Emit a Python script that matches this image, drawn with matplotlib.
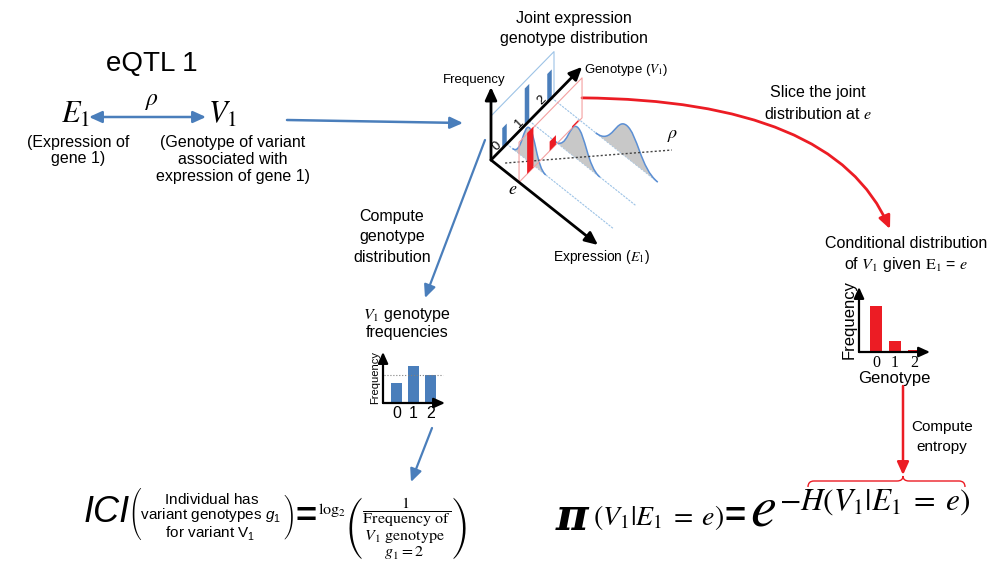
import numpy as np
import matplotlib.pyplot as plt
from matplotlib.path import Path
from matplotlib.patches import PathPatch, FancyArrowPatch, Polygon

plt.rcParams['font.family'] = ['Liberation Sans', 'DejaVu Sans']
plt.rcParams['mathtext.fontset'] = 'stix'
plt.rcParams['mathtext.rm'] = 'Liberation Sans'
plt.rcParams['mathtext.it'] = 'Liberation Sans:italic'
plt.rcParams['mathtext.bf'] = 'Liberation Sans:bold'

# data
genotypes = ['0', '1', '2']
genotype_freq = [0.55, 1.0, 0.77]        # marginal V1 genotype frequencies
cond_freq = [1.0, 0.23, 0.045]           # V1 given E1 = e
joint_peak = [1.0, 0.94, 0.94]           # peak of expression density per genotype
joint_center = [2.1, 4.5, 7.0]           # expression value at the peak
joint_spread = [1.55, 2.1, 2.9]          # half width of each density
e_slice = 2.62                           # where the slice is taken

blue = '#4a7ebb'
red = '#ec1c24'
light_blue = '#9dc3e6'
pink = '#f4a0a0'
grey_fill = '#c8c8c8'
bump_edge = '#5b8fd4'

W, H = 995, 572
fig = plt.figure(figsize=(W / 100, H / 100), dpi=100)
ax = fig.add_axes([0, 0, 1, 1])
ax.set_xlim(0, W)
ax.set_ylim(H, 0)
ax.axis('off')


def arrow(p0, p1, color, style='-|>', lw=1.6, ms=14, z=2):
    ax.add_patch(FancyArrowPatch(p0, p1, arrowstyle=style + ',head_length=0.55,head_width=0.25',
                                 color=color, lw=lw, mutation_scale=ms,
                                 shrinkA=0, shrinkB=0, zorder=z))


def txt(x, y, s, size=11.5, **kw):
    kw.setdefault('ha', 'center')
    kw.setdefault('va', 'center')
    ax.text(x, y, s, fontsize=size, **kw)


# ---- left: eQTL 1 ----
txt(152, 64, 'eQTL 1', 20)
txt(76, 115, r'$E_1$', 22)
txt(223, 115, r'$V_1$', 22)
txt(152, 101, r'$\rho$', 17)
arrow((89, 117), (206, 117), blue, style='<|-|>', lw=1.8)
txt(78, 142, '(Expression of')
txt(78, 159, 'gene 1)')
txt(233, 142, '(Genotype of variant')
txt(233, 159, 'associated with')
txt(233, 176, 'expression of gene 1)')
arrow((287, 120), (463, 123), blue, lw=1.8)

# ---- joint distribution schematic ----
O = np.array([491.0, 160.0])
G = np.array([22.5, -23.0])
X = np.array([10.7, 8.5])


def proj(g, x, f=0.0):
    g, x, f = np.broadcast_arrays(np.asarray(g, float), np.asarray(x, float), np.asarray(f, float))
    return np.stack([O[0] + g * G[0] + x * X[0], O[1] + g * G[1] + x * X[1] - f], axis=-1)


gpos = np.array([0.6, 1.6, 2.6])
bump_g = gpos + 0.1

txt(574, 18, 'Joint expression')
txt(574, 38, 'genotype distribution')

# back plane (genotype x frequency)
plane = proj([0, 2.8, 2.8], 0, [44, 44, 0])
ax.plot(plane[:, 0], plane[:, 1], color=light_blue, lw=0.8, zorder=2)
for g, v, lab in zip(gpos, genotype_freq, genotypes):
    h = v * 37
    ax.add_patch(Polygon(proj([g - 0.1, g + 0.1, g + 0.1, g - 0.1], 0, [0, 0, h, h]),
                         closed=True, facecolor=blue, edgecolor='none', zorder=3))
    p = proj(g - 0.35, 0, 8)
    txt(p[0], p[1], lab, 9.5, rotation=45)

# lines along the expression direction
for g in bump_g:
    line = proj(g, [0, 10])
    ax.plot(line[:, 0], line[:, 1], color=light_blue, lw=0.8, ls=(0, (2, 1)), zorder=2)

# expression densities, back to front
codes = [Path.MOVETO] + [Path.CURVE4] * 6
for k in [2, 1, 0]:
    c, w, h = joint_center[k], joint_spread[k], joint_peak[k] * 34
    xs = [c - w, c - 0.45 * w, c - 0.35 * w, c, c + 0.35 * w, c + 0.45 * w, c + w]
    fs = [0, 0, h, h, h, 0, 0]
    pts = proj(bump_g[k], xs, fs)
    ax.add_patch(PathPatch(Path(np.vstack([pts, pts[:1]]), codes + [Path.CLOSEPOLY]),
                           facecolor=grey_fill, edgecolor='none', zorder=4))
    ax.add_patch(PathPatch(Path(pts, codes), facecolor='none', edgecolor=bump_edge,
                           lw=1.1, zorder=4))

# regression line rho
rho = proj([0.2, 3.76], [0.9, 9.0])
ax.plot(rho[:, 0], rho[:, 1], color='#444444', lw=1, ls=(0, (1.5, 1.5)), zorder=5)
txt(673, 136, r'$\rho$', 13)

# slice at e
sl = proj([0, 2.8, 2.8, 0, 0], e_slice, [0, 0, 40, 40, 0])
ax.plot(sl[:, 0], sl[:, 1], color=pink, lw=0.8, zorder=5)
for g, v in zip(gpos - 0.1, cond_freq):
    h = v * 41
    ax.add_patch(Polygon(proj([g - 0.14, g + 0.14, g + 0.14, g - 0.14], e_slice, [0, 0, h, h]),
                         closed=True, facecolor=red, edgecolor='none', zorder=6))

# axes
arrow(tuple(O), tuple(proj(0, 0, 73)), 'black', lw=2, z=7)
arrow(tuple(O), tuple(proj(4.05, 0)), 'black', lw=2, z=7)
arrow(tuple(O), tuple(proj(0, 10)), 'black', lw=2, z=7)
txt(474, 80, 'Frequency', 9.5)
txt(584, 70, r'Genotype ($V_1$)', 9.5, ha='left')
txt(601, 257, r'Expression ($E_1$)', 10)
txt(513, 189, r'$e$', 13)

# ---- slice arrow to conditional distribution ----
start = proj(2.8, e_slice, 20)
curve = Path([tuple(start), (834, 100), (890, 229)], [Path.MOVETO, Path.CURVE3, Path.CURVE3])
ax.add_patch(FancyArrowPatch(path=curve, arrowstyle='-|>,head_length=0.55,head_width=0.25',
                             color=red, lw=2, mutation_scale=14, zorder=2))
txt(818, 93, 'Slice the joint')
txt(818, 114, r'distribution at $e$')
txt(906, 243, 'Conditional distribution')
txt(906, 265, r'of $V_1$ given $\mathrm{E}_1$ = $e$')


def small_bars(x0, y0, x1, y1, vals, color, width, fsize):
    a = fig.add_axes([x0 / W, 1 - y1 / H, (x1 - x0) / W, (y1 - y0) / H])
    a.patch.set_alpha(0)
    a.bar(range(3), vals, width=width, color=color)
    for s in a.spines.values():
        s.set_visible(False)
    for tip in [(1, 0), (0, 1)]:
        a.annotate('', xy=tip, xytext=(0, 0), xycoords='axes fraction',
                   arrowprops=dict(arrowstyle='-|>,head_length=0.55,head_width=0.25',
                                   color='black', lw=1.6, mutation_scale=12,
                                   shrinkA=0, shrinkB=0))
    a.set_xticks(range(3))
    a.set_xticklabels(genotypes, fontsize=fsize)
    a.set_yticks([])
    a.tick_params(length=0, pad=2)
    return a


# conditional bar chart
cax = small_bars(859, 287, 930, 352, cond_freq, red, 0.63, 11.5)
cax.set_xlim(-0.895, 2.84)
cax.set_ylim(0, 1.42)
for t in cax.get_xticklabels():
    t.set_family('Liberation Serif')
cax.set_xlabel('Genotype', fontsize=12, labelpad=0)
cax.set_ylabel('Frequency', fontsize=12, labelpad=2)

# compute entropy arrow and brace
arrow((903, 386), (903, 475), red, lw=1.8)
txt(942, 427, 'Compute', 11)
txt(942, 447, 'entropy', 11)
brace = Path([(808, 487), (808, 481), (814, 481), (897, 481), (903, 481), (903, 476),
              (903, 481), (909, 481), (959, 481), (965, 481), (965, 487)],
             [Path.MOVETO, Path.CURVE3, Path.CURVE3, Path.LINETO, Path.CURVE3, Path.CURVE3,
              Path.CURVE3, Path.CURVE3, Path.LINETO, Path.CURVE3, Path.CURVE3])
ax.add_patch(PathPatch(brace, facecolor='none', edgecolor=red, lw=1))

# pi formula
txt(572, 517, 'π', 32, fontfamily='DejaVu Serif', fontweight='bold', style='italic')
txt(593, 517, r'$\left(V_1|E_1\;=\;e\right)$', 20, ha='left')
txt(735, 517, '=', 26, fontweight='bold')
txt(763, 510, r'$e$', 42)
txt(779, 502, r'$-H\left(V_1|E_1\;=\;e\right)$', 22.5, ha='left')

# ---- genotype frequency branch ----
arrow((485, 140), (425, 298), blue)
txt(392, 217, 'Compute')
txt(392, 237, 'genotype')
txt(392, 257, 'distribution')
txt(407, 315, r'$V_1$ genotype')
txt(407, 333, 'frequencies')
gax = small_bars(383, 352, 445, 403, genotype_freq, blue, 0.65, 11.5)
gax.set_xlim(-0.79, 2.85)
gax.set_ylim(0, 1.39)
gax.plot([-0.75, 2.75], [genotype_freq[2]] * 2, color='grey', lw=0.8, ls=':')
gax.set_ylabel('Frequency', fontsize=8, labelpad=2)
arrow((432, 428), (411, 482), blue)

# ICI formula
txt(107, 513, 'ICI', 26, style='italic')
ax.text(128, 486, r'$\left(\genfrac{}{}{0}{0}{\mathrm{Individual\ has}}'
        r'{\genfrac{}{}{0}{0}{\mathrm{variant\ genotypes}\ g_1}{\mathrm{for\ variant\ V}_1}}\right)$',
        fontsize=11, math_fontfamily='custom', ha='left', va='top')
txt(306, 517, '=', 26, fontweight='bold')
ax.text(318, 495, r'$\log_2\left(\dfrac{1}{\genfrac{}{}{0}{0}{\mathrm{Frequency\ of}}'
        r'{\genfrac{}{}{0}{0}{V_1\ \mathrm{genotype}}{g_1=2}}}\right)$',
        fontsize=11.5, ha='left', va='top')

fig.savefig('out.png', dpi=100)
